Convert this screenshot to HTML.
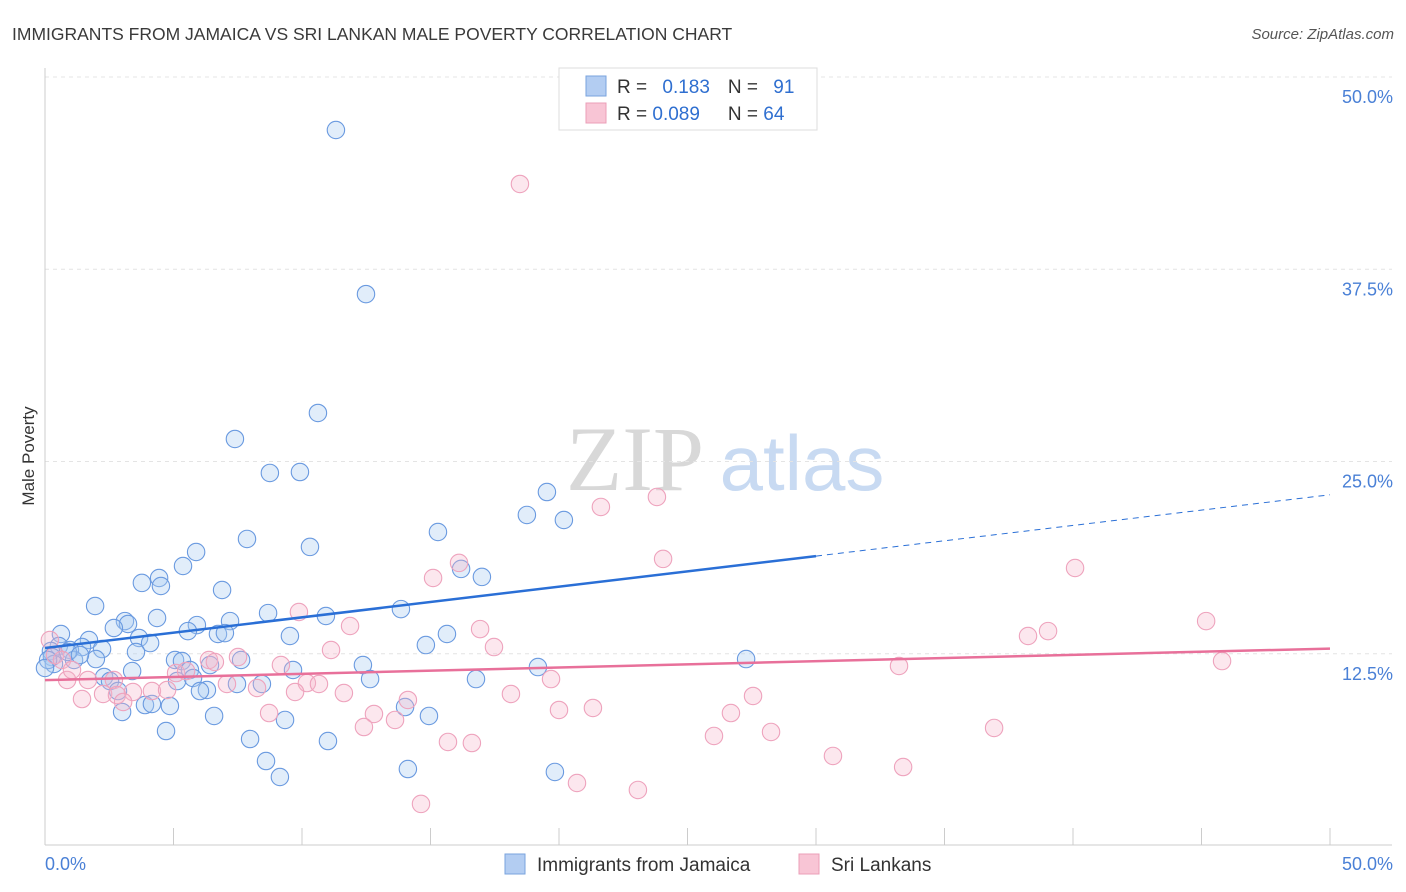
<!DOCTYPE html>
<html><head><meta charset="utf-8">
<style>
body{margin:0;background:#fff;font-family:"Liberation Sans",sans-serif;}
#wrap{position:relative;width:1406px;height:892px;overflow:hidden;}
</style></head>
<body>
<div id="wrap">
<svg id="svg" width="1406" height="892" xmlns="http://www.w3.org/2000/svg">
<text x="12" y="40" font-size="17.5" fill="#3a3a3a">IMMIGRANTS FROM JAMAICA VS SRI LANKAN MALE POVERTY CORRELATION CHART</text>
<text x="1394" y="39" font-size="15" fill="#555" font-style="italic" text-anchor="end">Source: ZipAtlas.com</text>
<text x="34" y="456" font-size="17" fill="#333" text-anchor="middle" transform="rotate(-90 34 456)">Male Poverty</text>
<g>
<text x="635" y="490" font-size="92" fill="#d8d8d8" font-family="Liberation Serif,serif" text-anchor="middle">ZIP</text>
<text x="802" y="490" font-size="78" fill="#c8daf2" text-anchor="middle">atlas</text>
</g>
<g id="grid"></g>
<g id="axes"></g>
<g id="pts"></g>
<g id="trend"></g>
<g>
<rect x="559" y="68" width="258" height="62" fill="#fff" stroke="#ddd"/>
<rect x="586" y="76" width="20" height="20" fill="#b3cdf2" stroke="#7aa3de"/>
<rect x="586" y="103" width="20" height="20" fill="#f8c5d5" stroke="#eb9fb8"/>
<text x="617" y="93" font-size="19" fill="#333">R = <tspan fill="#2f6fd0" dx="10">0.183</tspan><tspan dx="18" fill="#333">N = </tspan><tspan fill="#2f6fd0" dx="10">91</tspan></text>
<text x="617" y="120" font-size="19" fill="#333">R = <tspan fill="#2f6fd0">0.089</tspan><tspan dx="28" fill="#333">N = </tspan><tspan fill="#2f6fd0">64</tspan></text>
</g>
<g>
<rect x="505" y="854" width="20" height="20" fill="#b3cdf2" stroke="#7aa3de"/>
<text x="537" y="871" font-size="19" fill="#333">Immigrants from Jamaica</text>
<rect x="799" y="854" width="20" height="20" fill="#f8c5d5" stroke="#eb9fb8"/>
<text x="831" y="871" font-size="19" fill="#333">Sri Lankans</text>
</g>
</svg>
</div>
<script>
const blueX=[11.32,12.49,10.62,7.39,8.75,9.92,19.53,18.75,20.19,15.29,7.86,10.31,5.88,5.37,16.19,17.00,3.77,4.44,4.51,6.89,1.95,4.36,8.68,10.93,13.85,3.11,3.23,2.68,5.91,7.20,5.56,6.73,7.00,3.66,4.09,0.62,1.71,9.53,15.64,14.82,0.54,1.44,2.22,3.54,0.23,0.97,0.27,1.98,0.35,1.13,5.06,5.33,6.42,7.63,12.37,19.18,27.28,9.65,3.39,2.30,2.53,5.64,12.65,16.77,5.14,5.76,6.30,7.47,8.44,6.03,2.84,14.01,3.89,4.16,4.86,3.00,6.58,9.34,14.94,4.71,7.98,11.01,8.60,9.14,14.12,19.84,0.12,0.89,1.36,0.00];
const blueY=[46.62,35.95,28.22,26.53,24.32,24.38,23.08,21.59,21.26,20.48,20.03,19.51,19.18,18.27,18.08,17.56,17.17,17.49,16.97,16.71,15.67,14.89,15.21,15.02,15.47,14.69,14.50,14.24,14.43,14.69,14.04,13.85,13.91,13.59,13.26,13.85,13.46,13.72,13.85,13.13,13.07,13.00,12.87,12.68,12.74,12.81,12.35,12.22,11.90,12.16,12.16,12.09,11.83,12.16,11.83,11.70,12.22,11.51,11.44,11.05,10.79,11.51,10.92,10.92,10.79,10.99,10.21,10.60,10.60,10.14,10.14,9.10,9.23,9.30,9.17,8.78,8.52,8.26,8.52,7.54,7.02,6.89,5.59,4.55,5.07,4.88,12.16,12.68,12.48,11.64];
const pinkX=[18.48,23.81,21.63,24.05,40.08,15.10,16.11,9.88,11.87,45.18,16.93,38.25,39.03,17.47,11.13,45.80,33.23,6.38,6.61,7.51,9.18,5.10,5.49,19.69,10.19,10.66,7.08,8.25,0.86,1.67,2.68,3.42,4.16,4.75,9.73,11.63,18.13,27.55,2.26,1.44,2.80,3.04,8.72,12.80,13.62,14.12,20.00,21.32,26.69,12.41,15.68,16.61,26.03,28.25,36.93,30.66,33.39,20.70,23.07,14.63,0.19,0.39,0.66,1.05];
const pinkY=[43.11,22.76,22.11,18.73,18.14,17.49,18.47,15.28,14.37,14.69,14.17,13.72,14.04,13.00,12.81,12.09,11.77,12.16,12.03,12.35,11.83,11.31,11.44,10.92,10.66,10.60,10.60,10.34,10.86,10.86,10.86,10.08,10.14,10.21,10.08,10.01,9.95,9.82,9.95,9.62,9.88,9.43,8.71,8.65,8.26,9.56,8.91,9.04,8.71,7.80,6.83,6.76,7.22,7.48,7.74,5.92,5.20,4.16,3.71,2.80,13.46,12.48,12.16,11.51];
const yTicks=[12.5,25.0,37.5,50.0];
const yTickLabels=["12.5%","25.0%","37.5%","50.0%"];
const xTicks=[0,5,10,15,20,25,30,35,40,45,50];
const blueTrend=[12.94,22.9]; // at x=0 and x=50
const blueSolidEnd=30;
const pinkTrend=[10.85,12.9];

const NS="http://www.w3.org/2000/svg";
const X=v=>45+v*25.7, Y=v=>847-v*15.38;
function mk(tag,attrs,parent){const e=document.createElementNS(NS,tag);for(const k in attrs)e.setAttribute(k,attrs[k]);parent.appendChild(e);return e;}
const grid=document.getElementById('grid'),axes=document.getElementById('axes'),pts=document.getElementById('pts'),trend=document.getElementById('trend');
yTicks.forEach((t,i)=>{
 const l=mk('line',{x1:45,x2:1392,y1:Y(t)-1,y2:Y(t)-1,stroke:'#e4e4e4','stroke-dasharray':'4 4'},grid);
 
 
 const tx=mk('text',{x:1393,y:Y(t)+25,'font-size':18,fill:'#4a80d6','text-anchor':'end'},axes);
 tx.textContent=yTickLabels[i];
 
 
});
const ax=mk('line',{x1:45,x2:1392,y1:845,y2:845,stroke:'#ccc'},axes);


const ay=mk('line',{x1:45,x2:45,y1:68,y2:845,stroke:'#ccc'},axes);


xTicks.forEach(t=>{
 const l=mk('line',{x1:X(t),x2:X(t),y1:828,y2:845,stroke:'#ccc'},axes);
 
 
});
const xl0=mk('text',{x:45,y:870,'font-size':18,fill:'#4a80d6'},axes);xl0.textContent='0.0%';


const xl1=mk('text',{x:1393,y:870,'font-size':18,fill:'#4a80d6','text-anchor':'end'},axes);xl1.textContent='50.0%';


blueX.forEach((v,i)=>{
 const c=mk('circle',{cx:X(v),cy:Y(blueY[i]),r:8.7,fill:'rgba(170,202,242,0.35)',stroke:'#6a9ae0','stroke-width':1.1},pts);
 
 
});
pinkX.forEach((v,i)=>{
 const c=mk('circle',{cx:X(v),cy:Y(pinkY[i]),r:8.7,fill:'rgba(247,182,203,0.33)',stroke:'#eea3bd','stroke-width':1.1},pts);
 
 
});
const bAt=x=>blueTrend[0]+(blueTrend[1]-blueTrend[0])*x/50;
const b1=mk('line',{x1:X(0),y1:Y(bAt(0)),x2:X(blueSolidEnd),y2:Y(bAt(blueSolidEnd)),stroke:'#2a6fd6','stroke-width':2.5},trend);


const b2=mk('line',{x1:X(blueSolidEnd),y1:Y(bAt(blueSolidEnd)),x2:X(50),y2:Y(bAt(50)),stroke:'#2a6fd6','stroke-width':1,'stroke-dasharray':'6 5'},trend);


const p1=mk('line',{x1:X(0),y1:Y(pinkTrend[0]),x2:X(50),y2:Y(pinkTrend[1]),stroke:'#e8709a','stroke-width':2.5},trend);


</script>
</body></html>
